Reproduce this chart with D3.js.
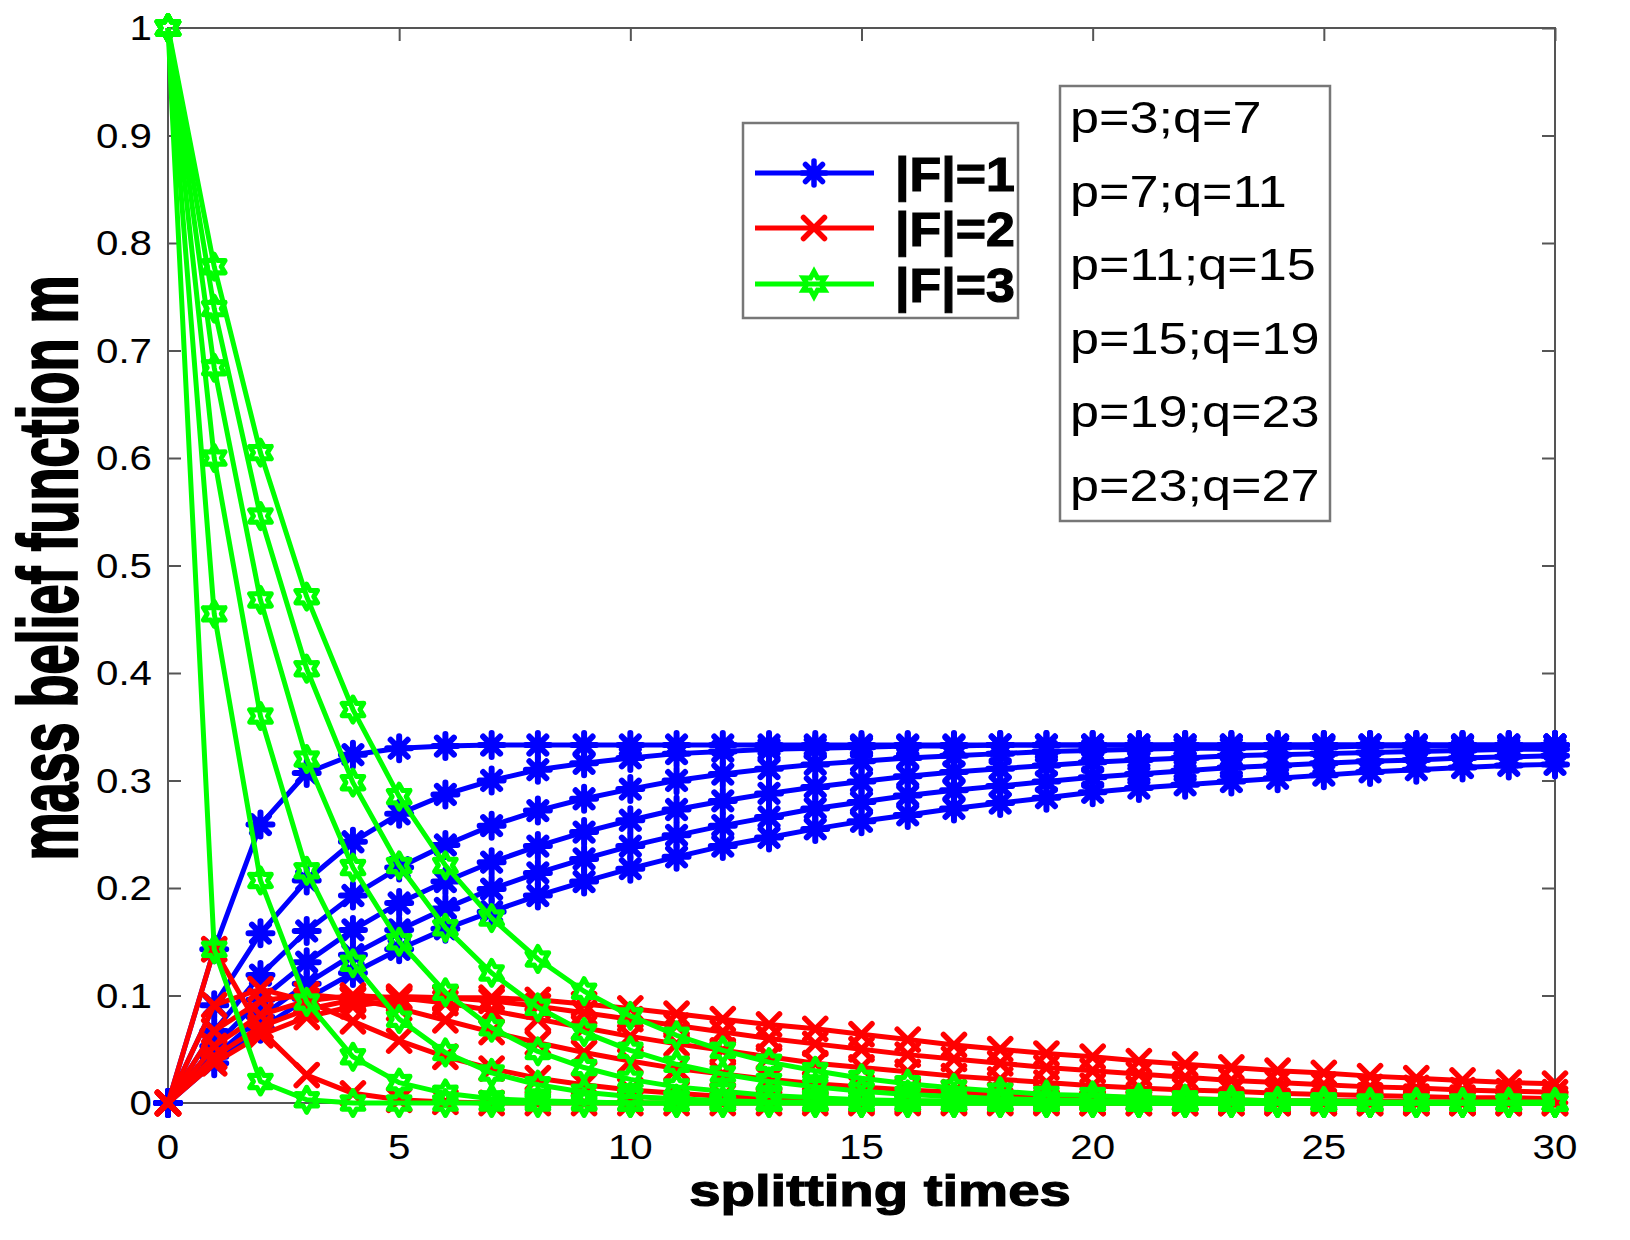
<!DOCTYPE html>
<html>
<head>
<meta charset="utf-8">
<script src="https://cdn.jsdelivr.net/npm/d3@7"></script>
<style>
  html, body { margin: 0; padding: 0; background: #fff; }
  svg { display: block; }
</style>
</head>
<body>
<div id="chart"></div>
<script>
// ---------------- DATA ----------------
const splittingTimes = [0,1,2,3,4,5,6,7,8,9,10,11,12,13,14,15,16,17,18,19,20,21,22,23,24,25,26,27,28,29,30];
const xTickValues = [0, 5, 10, 15, 20, 25, 30];
const yTickValues = [0, 0.1, 0.2, 0.3, 0.4, 0.5, 0.6, 0.7, 0.8, 0.9, 1];
const paramLabels = ["p=3;q=7", "p=7;q=11", "p=11;q=15", "p=15;q=19", "p=19;q=23", "p=23;q=27"];
const legendLabels = ["|F|=1", "|F|=2", "|F|=3"];
const xLabel = "splitting times";
const yLabel = "mass belief function m";

// |F|=1 (blue)
const m1_p3q7   = [0,.143,.259,.307,.324,.330,.332,.333,.333,.333,.333,.333,.333,.333,.333,.333,.333,.333,.333,.333,.333,.333,.333,.333,.333,.333,.333,.333,.333,.333,.333];
const m1_p7q11  = [0,.091,.158,.207,.243,.269,.287,.300,.310,.316,.321,.325,.327,.329,.330,.331,.332,.332,.333,.333,.333,.333,.333,.333,.333,.333,.333,.333,.333,.333,.333];
const m1_p11q15 = [0,.067,.119,.160,.193,.219,.240,.258,.272,.283,.292,.300,.306,.311,.315,.318,.321,.323,.325,.327,.328,.329,.330,.330,.331,.331,.332,.332,.332,.332,.333];
const m1_p15q19 = [0,.053,.096,.131,.161,.186,.206,.224,.239,.252,.263,.273,.281,.288,.294,.299,.304,.308,.311,.314,.317,.319,.321,.323,.324,.325,.326,.327,.328,.329,.329];
const m1_p19q23 = [0,.043,.080,.111,.138,.161,.181,.199,.214,.227,.239,.249,.258,.266,.274,.280,.286,.291,.295,.299,.303,.306,.309,.312,.314,.316,.318,.319,.321,.322,.323];
const m1_p23q27 = [0,.037,.069,.097,.121,.143,.162,.178,.193,.206,.218,.229,.239,.247,.255,.262,.268,.274,.279,.284,.289,.293,.296,.299,.302,.305,.308,.310,.312,.314,.315];

// |F|=2 (red)
const m2_p3q7   = [0,.143,.068,.026,.009,.003,.001,0,0,0,0,0,0,0,0,0,0,0,0,0,0,0,0,0,0,0,0,0,0,0,0];
const m2_p7q11  = [0,.091,.106,.095,.076,.058,.043,.032,.023,.017,.012,.009,.006,.004,.003,.002,.002,.001,.001,.001,0,0,0,0,0,0,0,0,0,0,0];
const m2_p11q15 = [0,.067,.095,.101,.097,.088,.077,.066,.056,.047,.039,.032,.027,.022,.018,.015,.012,.010,.008,.007,.006,.005,.004,.003,.002,.002,.002,.001,.001,.001,.001];
const m2_p15q19 = [0,.053,.082,.095,.100,.098,.093,.086,.078,.070,.062,.055,.049,.043,.037,.033,.029,.025,.022,.019,.016,.014,.012,.011,.009,.008,.007,.006,.005,.005,.004];
const m2_p19q23 = [0,.043,.071,.087,.096,.099,.098,.095,.090,.084,.078,.072,.066,.060,.055,.050,.045,.041,.037,.033,.030,.027,.024,.021,.019,.017,.015,.014,.012,.011,.010];
const m2_p23q27 = [0,.037,.063,.080,.090,.096,.098,.098,.096,.092,.088,.083,.078,.073,.069,.064,.059,.054,.050,.046,.043,.039,.036,.033,.030,.028,.025,.023,.021,.019,.018];

// |F|=3 (green)
const m3_p3q7   = [1,.143,.020,.003,0,0,0,0,0,0,0,0,0,0,0,0,0,0,0,0,0,0,0,0,0,0,0,0,0,0,0];
const m3_p7q11  = [1,.455,.207,.094,.043,.019,.009,.004,.002,.001,0,0,0,0,0,0,0,0,0,0,0,0,0,0,0,0,0,0,0,0,0];
const m3_p11q15 = [1,.600,.360,.216,.130,.078,.047,.028,.017,.010,.006,.004,.002,.001,.001,0,0,0,0,0,0,0,0,0,0,0,0,0,0,0,0];
const m3_p15q19 = [1,.684,.468,.320,.219,.150,.103,.070,.048,.033,.022,.015,.011,.007,.005,.003,.002,.002,.001,.001,.001,0,0,0,0,0,0,0,0,0,0];
const m3_p19q23 = [1,.739,.546,.404,.298,.221,.163,.121,.089,.066,.049,.036,.027,.020,.015,.011,.008,.006,.004,.003,.002,.002,.001,.001,.001,.001,0,0,0,0,0];
const m3_p23q27 = [1,.778,.605,.471,.366,.285,.221,.172,.134,.104,.081,.063,.049,.038,.030,.023,.018,.014,.011,.008,.007,.005,.004,.003,.002,.002,.001,.001,.001,.001,.001];

const blueSeries  = [m1_p3q7, m1_p7q11, m1_p11q15, m1_p15q19, m1_p19q23, m1_p23q27];
const redSeries   = [m2_p3q7, m2_p7q11, m2_p11q15, m2_p15q19, m2_p19q23, m2_p23q27];
const greenSeries = [m3_p3q7, m3_p7q11, m3_p11q15, m3_p15q19, m3_p19q23, m3_p23q27];

// ---------------- LAYOUT ----------------
const W = 1630, H = 1240;
const plot = { left: 168, right: 1555, top: 28, bottom: 1103 };
const BLUE = "#0000ff", RED = "#ff0000", GREEN = "#00ff00";
const AXIS = "#555555";

const svg = d3.select("#chart").append("svg")
  .attr("width", W).attr("height", H)
  .attr("viewBox", `0 0 ${W} ${H}`);

const x = d3.scaleLinear().domain([0, 30]).range([plot.left, plot.right]);
const y = d3.scaleLinear().domain([0, 1]).range([plot.bottom, plot.top]);

function addText(g, px, py, str, o) {
  return g.append("text")
    .attr("transform", `translate(${px},${py}) scale(${o.sx || 1},1)` + (o.rot ? ` rotate(${o.rot})` : ""))
    .attr("text-anchor", o.anchor || "start")
    .attr("font-family", o.family || "'Liberation Sans', Arial, Helvetica, sans-serif")
    .attr("font-size", o.size)
    .attr("font-weight", o.weight || "normal")
    .attr("fill", o.fill || "#000")
    .attr("stroke", o.stroke || "none")
    .attr("stroke-width", o.strokeWidth || 0)
    .text(str);
}

// ---------------- AXES ----------------
const axisG = svg.append("g");
const xAxisBottom = d3.axisBottom(x).tickValues(xTickValues).tickSize(-13).tickFormat("");
const xAxisTop = d3.axisTop(x).tickValues(xTickValues).tickSize(-13).tickFormat("");
const yAxisLeft = d3.axisLeft(y).tickValues(yTickValues).tickSize(-13).tickFormat("");
const yAxisRight = d3.axisRight(y).tickValues(yTickValues).tickSize(-13).tickFormat("");

function styleAxis(sel) {
  sel.select(".domain").remove();
  sel.selectAll(".tick line").attr("stroke", AXIS).attr("stroke-width", 2);
}
axisG.append("g").attr("transform", `translate(0,${plot.bottom})`).call(xAxisBottom).call(styleAxis);
axisG.append("g").attr("transform", `translate(0,${plot.top})`).call(xAxisTop).call(styleAxis);
axisG.append("g").attr("transform", `translate(${plot.left},0)`).call(yAxisLeft).call(styleAxis);
axisG.append("g").attr("transform", `translate(${plot.right},0)`).call(yAxisRight).call(styleAxis);

axisG.append("rect")
  .attr("x", plot.left).attr("y", plot.top)
  .attr("width", plot.right - plot.left).attr("height", plot.bottom - plot.top)
  .attr("fill", "none").attr("stroke", AXIS).attr("stroke-width", 2);

// tick labels
const tickG = svg.append("g");
xTickValues.forEach(v => addText(tickG, x(v), 1159, String(v), { size: 35, sx: 1.15, anchor: "middle" }));
yTickValues.forEach(v => addText(tickG, 152, y(v) + 12, d3.format("~g")(v), { size: 35, sx: 1.15, anchor: "end" }));

// axis labels
addText(svg, 880, 1206, xLabel, { size: 44, sx: 1.28, anchor: "middle", weight: "bold", stroke: "#000", strokeWidth: 1.2 });
addText(svg, 77, 568, yLabel, { size: 54, sx: 1.55, rot: -90, anchor: "middle", weight: "bold", stroke: "#000", strokeWidth: 1.5 });

// ---------------- MARKERS ----------------
const starR = 12.5, starr = 7;
const hexagram = d3.range(12).map(i => {
  const a = -Math.PI / 2 + i * Math.PI / 6;
  const r = i % 2 === 0 ? starR : starr;
  return [r * Math.cos(a), r * Math.sin(a)];
});
const hexPath = "M" + hexagram.map(p => p[0].toFixed(2) + "," + p[1].toFixed(2)).join("L") + "Z";
const asteriskPath = "M-12,0H12M0,-12V12M-8.5,-8.5L8.5,8.5M-8.5,8.5L8.5,-8.5";
const crossPath = "M-10.5,-10.5L10.5,10.5M-10.5,10.5L10.5,-10.5";

const line = d3.line().x((d, i) => x(splittingTimes[i])).y(d => y(d));

function drawSeries(g, data, color, markerPath, mw) {
  const sg = g.append("g");
  sg.append("path").attr("d", line(data))
    .attr("fill", "none").attr("stroke", color).attr("stroke-width", 5)
    .attr("stroke-linejoin", "round");
  sg.selectAll("path.mk").data(data).enter().append("path")
    .attr("class", "mk")
    .attr("d", markerPath)
    .attr("transform", (d, i) => `translate(${x(splittingTimes[i])},${y(d)})`)
    .attr("fill", "none").attr("stroke", color).attr("stroke-width", mw)
    .attr("stroke-linecap", "round").attr("stroke-linejoin", "round");
}

const dataG = svg.append("g");
blueSeries.forEach(s => drawSeries(dataG, s, BLUE, asteriskPath, 6));
redSeries.forEach(s => drawSeries(dataG, s, RED, crossPath, 5.5));
greenSeries.forEach(s => drawSeries(dataG, s, GREEN, hexPath, 5));

// ---------------- LEGEND ----------------
const leg = svg.append("g");
leg.append("rect").attr("x", 743).attr("y", 123).attr("width", 275).attr("height", 195)
  .attr("fill", "#fff").attr("stroke", "#777").attr("stroke-width", 2.5);
const legColors = [BLUE, RED, GREEN];
const legMarkers = [asteriskPath, crossPath, hexPath];
const legRows = [173, 228, 284];
legendLabels.forEach((lab, i) => {
  leg.append("line").attr("x1", 755).attr("x2", 874).attr("y1", legRows[i]).attr("y2", legRows[i])
    .attr("stroke", legColors[i]).attr("stroke-width", 5);
  leg.append("path").attr("d", legMarkers[i])
    .attr("transform", `translate(814,${legRows[i]})`)
    .attr("fill", "none").attr("stroke", legColors[i]).attr("stroke-width", i === 2 ? 5 : 5.5)
    .attr("stroke-linecap", "round");
  addText(leg, 895, legRows[i] + 18, lab, { size: 48, sx: 1.08, weight: "bold", stroke: "#000", strokeWidth: 1.2 });
});

// ---------------- PARAMETER BOX ----------------
const box = svg.append("g");
box.append("rect").attr("x", 1060).attr("y", 86).attr("width", 270).attr("height", 435)
  .attr("fill", "#fff").attr("stroke", "#777").attr("stroke-width", 2.5);
paramLabels.forEach((lab, i) => addText(box, 1070, 133 + i * 73.6, lab, { size: 45, sx: 1.16 }));
</script>
</body>
</html>
